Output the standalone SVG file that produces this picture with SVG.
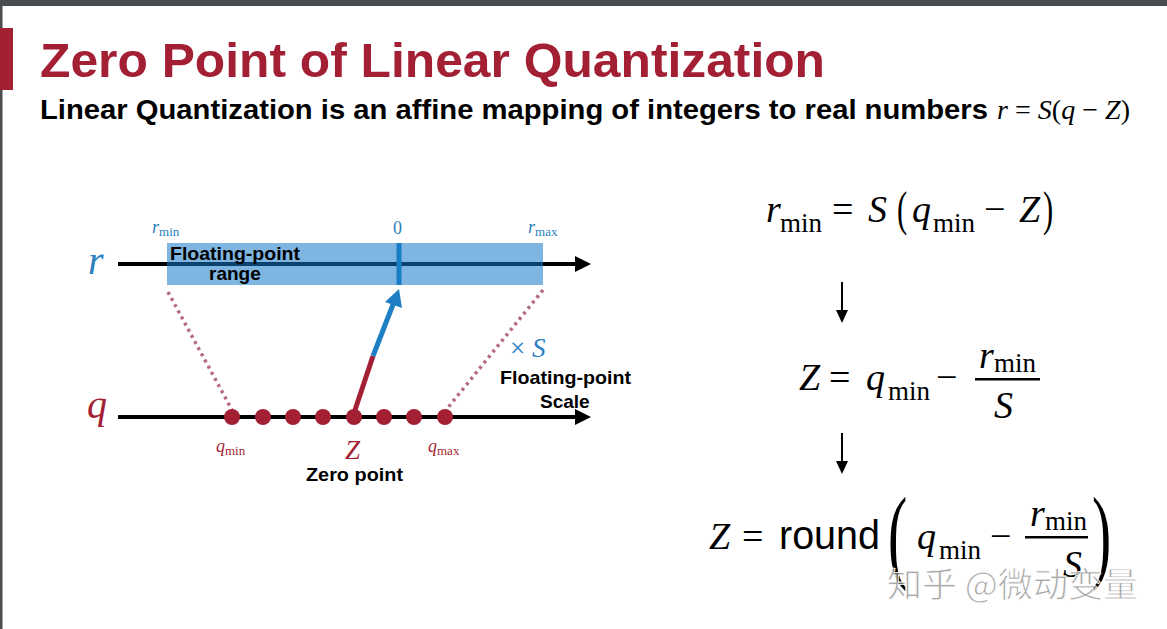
<svg xmlns="http://www.w3.org/2000/svg" width="1167" height="629" viewBox="0 0 1167 629">
<style>
.sans{font-family:"Liberation Sans",Arial,sans-serif}
.bold{font-family:"Liberation Sans",Arial,sans-serif;font-weight:bold}
.m{font-family:"Liberation Serif","Times New Roman",serif}
.i{font-style:italic}
.blue{fill:#2a80c0}
.red{fill:#a31f34}
.dot{fill:#a31f34}
.axis{stroke:#000;stroke-width:4}
.dash{stroke:#b46a80;stroke-width:3.5;stroke-dasharray:3 4;fill:none}
</style>
<defs>
<marker id="ah" viewBox="0 0 10 10" refX="0" refY="5" markerWidth="4" markerHeight="4.4" orient="auto" markerUnits="strokeWidth">
<path d="M0,0 L10,5 L0,10 z" fill="#000"/>
</marker>
</defs>
<rect width="1167" height="629" fill="#fff"/>
<rect x="0" y="0" width="1167" height="6" fill="#4a4d50"/>
<rect x="0" y="0" width="2.5" height="629" fill="#4a4d50"/>
<rect x="0" y="28" width="13" height="62" fill="#a31f34"/>
<g id="title">
<text x="40" y="77" class="bold" font-size="48" fill="#a31f34" textLength="785" lengthAdjust="spacingAndGlyphs">Zero Point of Linear Quantization</text>
<text x="40" y="119" class="bold" font-size="27" fill="#000" textLength="948" lengthAdjust="spacingAndGlyphs">Linear Quantization is an affine mapping of integers to real numbers</text>
<text x="997" y="119" class="m" font-size="28" fill="#000" textLength="133" lengthAdjust="spacing"><tspan font-style="italic">r</tspan> = <tspan font-style="italic">S</tspan>(<tspan font-style="italic">q</tspan> − <tspan font-style="italic">Z</tspan>)</text>
</g>
<g id="connectors">
<line x1="118" y1="264" x2="575" y2="264" class="axis" marker-end="url(#ah)"/>
<line x1="118" y1="417" x2="575" y2="417" class="axis" marker-end="url(#ah)"/>
<line x1="168" y1="292" x2="232" y2="410" class="dash"/>
<line x1="543" y1="290" x2="446" y2="410" class="dash"/>
<line x1="355" y1="410" x2="373" y2="356" stroke="#a31f34" stroke-width="5"/>
<line x1="373" y1="356" x2="394" y2="302" stroke="#1f7fc4" stroke-width="5"/>
<polygon points="399,289 402,308 385,302" fill="#1f7fc4"/>
<line x1="842" y1="282" x2="842" y2="312" stroke="#000" stroke-width="2"/>
<polygon points="836,310 848,310 842,323" fill="#000"/>
<line x1="842" y1="433" x2="842" y2="463" stroke="#000" stroke-width="2"/>
<polygon points="836,461 848,461 842,474" fill="#000"/>
</g>
<g id="range">
<rect x="167" y="243" width="376" height="42" fill="#1478c8" fill-opacity="0.55"/>
<rect x="396.5" y="243" width="5" height="42" fill="#1a7cc4"/>
<text x="170" y="260" class="bold" font-size="19" fill="#000" textLength="130" lengthAdjust="spacingAndGlyphs">Floating-point</text>
<text x="209" y="280" class="bold" font-size="19" fill="#000">range</text>
</g>
<g id="r-labels">
<text x="88" y="274" class="m i blue" font-size="40">r</text>
<text x="152" y="233" class="m blue" font-size="18"><tspan font-style="italic">r</tspan><tspan font-size="13" dy="3">min</tspan></text>
<text x="393" y="234" class="m blue" font-size="18">0</text>
<text x="528" y="233" class="m blue" font-size="18"><tspan font-style="italic">r</tspan><tspan font-size="13" dy="3">max</tspan></text>
</g>
<g id="q-points">
<circle cx="232" cy="417" r="8" class="dot"/>
<circle cx="263" cy="417" r="8" class="dot"/>
<circle cx="293" cy="417" r="8" class="dot"/>
<circle cx="323" cy="417" r="8" class="dot"/>
<circle cx="354" cy="417" r="8" class="dot"/>
<circle cx="384" cy="417" r="8" class="dot"/>
<circle cx="414" cy="417" r="8" class="dot"/>
<circle cx="445" cy="417" r="8" class="dot"/>
</g>
<g id="q-labels">
<text x="87" y="418" class="m i red" font-size="40">q</text>
<text x="216" y="452" class="m red" font-size="18"><tspan font-style="italic">q</tspan><tspan font-size="13" dy="3">min</tspan></text>
<text x="345" y="459" class="m i red" font-size="27">Z</text>
<text x="428" y="452" class="m red" font-size="18"><tspan font-style="italic">q</tspan><tspan font-size="13" dy="3">max</tspan></text>
<text x="306" y="481" class="bold" font-size="19" fill="#000" textLength="97" lengthAdjust="spacingAndGlyphs">Zero point</text>
</g>
<g id="scale">
<text x="510" y="357" class="m blue" font-size="27">× <tspan font-style="italic">S</tspan></text>
<text x="500" y="384" class="bold" font-size="19" fill="#000" textLength="131" lengthAdjust="spacingAndGlyphs">Floating-point</text>
<text x="540" y="408" class="bold" font-size="19" fill="#000">Scale</text>
</g>
<g id="eq1" class="m" fill="#000">
<text x="766" y="222" font-size="38" font-style="italic">r</text>
<text x="780" y="232" font-size="27">min</text>
<text x="832" y="222" font-size="38">=</text>
<text x="868" y="222" font-size="38" font-style="italic">S</text>
<text x="897" y="225" font-size="34" transform="translate(897 225) scale(0.9 1.45) translate(-897 -225)">(</text>
<text x="912" y="222" font-size="38" font-style="italic">q</text>
<text x="933" y="232" font-size="27">min</text>
<text x="984" y="222" font-size="38">−</text>
<text x="1019" y="222" font-size="38" font-style="italic">Z</text>
<text x="1043" y="225" font-size="34" transform="translate(1043 225) scale(0.9 1.45) translate(-1043 -225)">)</text>
</g>
<g id="eq2" class="m" fill="#000">
<text x="799" y="390" font-size="38" font-style="italic">Z</text>
<text x="829" y="390" font-size="38">=</text>
<text x="866" y="390" font-size="38" font-style="italic">q</text>
<text x="888" y="400" font-size="27">min</text>
<text x="936" y="390" font-size="38">−</text>
<text x="979" y="368" font-size="38" font-style="italic">r</text>
<text x="994" y="372" font-size="27">min</text>
<rect x="975" y="378" width="65" height="2.5"/>
<text x="994" y="418" font-size="38" font-style="italic">S</text>
</g>
<g id="eq3" fill="#000">
<text x="709" y="549" class="m" font-size="38" font-style="italic">Z</text>
<text x="742" y="549" class="m" font-size="38">=</text>
<text x="779" y="549" class="sans" font-size="40" textLength="101" lengthAdjust="spacingAndGlyphs">round</text>
<text x="888" y="569" class="m" font-size="72" transform="translate(888 569) scale(0.8 1.45) translate(-888 -569)">(</text>
<text x="917" y="549" class="m" font-size="38" font-style="italic">q</text>
<text x="939" y="559" class="m" font-size="27">min</text>
<text x="990" y="549" class="m" font-size="38">−</text>
<text x="1030" y="526" class="m" font-size="38" font-style="italic">r</text>
<text x="1045" y="530" class="m" font-size="27">min</text>
<rect x="1025" y="536" width="63" height="2.5"/>
<text x="1063" y="577" class="m" font-size="38" font-style="italic">S</text>
<text x="1092" y="569" class="m" font-size="72" transform="translate(1092 569) scale(0.8 1.45) translate(-1092 -569)">)</text>
</g>
<g id="watermark">
<text x="887" y="597" font-family="'Noto Sans CJK SC',sans-serif" font-size="34" fill="#8a8a8a" fill-opacity="0.75" stroke="#ffffff" stroke-width="0.8" textLength="251" lengthAdjust="spacingAndGlyphs">知乎 @微动变量</text>
</g>
</svg>
